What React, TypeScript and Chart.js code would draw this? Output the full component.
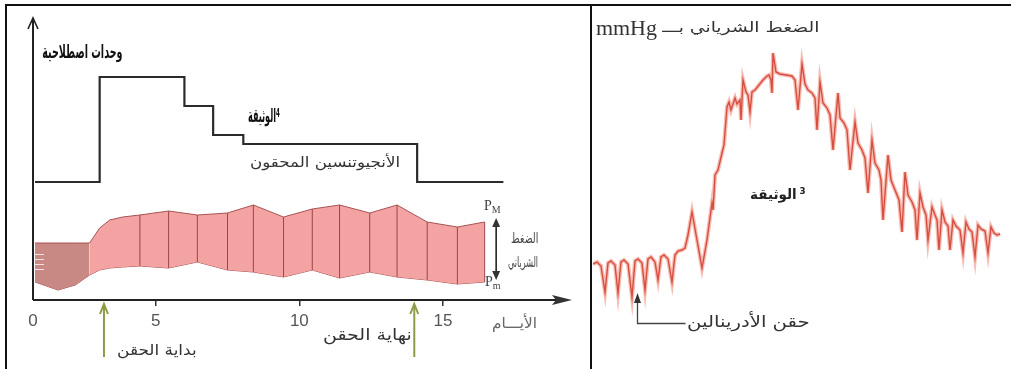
import React, { useEffect, useLayoutEffect, useRef } from "react";
import { Chart, registerables } from "chart.js";

Chart.register(...registerables);

// ---- Document 4: injected angiotensin (conventional units) over days ----
const injectionDays = [0.8, 3.05, 6, 7, 8.05, 14.1, 17.1];
const injectionLevels = [11.8, 22.3, 19.4, 16.5, 15.6, 11.8, 11.8];

// arterial pressure envelope (PM = maximum, Pm = minimum)
const pressureDays = [0.8, 1.6, 2.2, 2.7, 3.05, 3.4, 3.85, 4.45, 5.45, 6.45, 7.5, 8.4, 9.45, 10.45, 11.4, 12.45, 13.4, 14.45, 15.5, 16.45];
const maxPressure = [68.5, 68.5, 68.5, 68.5, 76, 80, 81.5, 82.5, 84.5, 82.5, 83.5, 87.5, 81.5, 85.5, 87.5, 83.5, 87.5, 79, 76.5, 79];
const minPressure = [49, 45, 47.5, 52.5, 55, 56, 56.5, 57, 56, 59, 55, 54, 51.5, 55, 51, 54, 51.5, 50, 48, 49];

const dayTicks = [5, 10, 15];
const injectionStartDay = 3.2;
const injectionEndDay = 14;
const dailyReadingsFrom = 4.4;

// ---- Document 3: arterial pressure (mmHg) after adrenaline injection ----
const traceTime = [
  0, 4, 8, 12, 15, 18, 22, 25, 28, 31,
  35, 39, 42, 45, 49, 52, 55, 58, 62, 65,
  68, 71, 75, 79, 82, 85, 89, 92, 95, 99,
  104, 109, 114, 119, 120, 122, 125, 129, 131, 134,
  136, 138, 140, 142, 144, 147, 148, 150, 153, 155,
  157, 159, 162, 166, 170, 174, 176, 178, 179, 180,
  183, 187, 193, 199, 202, 205, 209, 212, 215, 219,
  222, 224, 227, 230, 234, 237, 240, 245, 247, 251,
  254, 257, 262, 265, 269, 272, 275, 279, 282, 286,
  288, 290, 295, 298, 302, 306, 309, 312, 315, 319,
  322, 324, 327, 330, 333, 335, 339, 342, 344, 346,
  349, 352, 355, 357, 360, 363, 367, 370, 373, 376,
  379, 382, 385, 388, 392, 395, 398, 401, 404, 407,
];
const tracePressure = [
  68, 69, 67, 54, 68.5, 69.5, 67.5, 53.5, 69, 70,
  68, 51.5, 69.5, 70.5, 68.5, 55, 70.5, 71.5, 69, 60,
  71.5, 72.5, 70.5, 59, 72.5, 74.5, 75, 76, 82.5, 94,
  80, 66, 80, 98.5, 95, 112.5, 115, 123.5, 127.5, 146.5,
  149, 145, 148, 151, 148, 150, 140, 160, 154, 152.5,
  144, 154, 155, 157.5, 160, 162, 162.5, 160, 153.5, 173.5,
  164, 163, 162.5, 162, 160, 145, 168, 158, 155, 153.5,
  151, 135, 159, 148.5, 146, 142.5, 125, 153.5, 141, 138.5,
  135, 115, 139, 128.5, 125, 121, 103.5, 130, 118.5, 115,
  110, 90, 122.5, 110, 105, 100, 84, 114, 102.5, 99,
  95, 80, 103.5, 96.5, 92.5, 80, 96.5, 92.5, 90, 75,
  95, 89, 87, 75, 90, 87, 85, 73.5, 89, 85.5,
  84, 71.5, 87.5, 85.5, 84.5, 73.5, 86.5, 83.5, 82.5, 83,
];
const adrenalineTime = 44;

const ARABIC = "'DejaVu Sans', sans-serif";
const SERIF = "'Liberation Serif', 'DejaVu Serif', serif";
const PAGE_W = 1011;

type LabelProps = {
  right?: number;
  left?: number;
  y: number;
  width?: number;
  size: number;
  bold?: boolean;
  color?: string;
  font?: string;
  dir?: "rtl" | "ltr";
  children: React.ReactNode;
};

// Text placed on the page; when a width is given the run is stretched to it.
function Label({ right, left, y, width, size, bold, color = "#222", font = ARABIC, dir = "rtl", children }: LabelProps) {
  const ref = useRef<HTMLDivElement>(null);
  useLayoutEffect(() => {
    const el = ref.current;
    if (!el || !width) return;
    const w = el.offsetWidth;
    if (w > 0) el.style.transform = `translateY(-50%) scaleX(${width / w})`;
  }, [width]);
  return (
    <div
      ref={ref}
      style={{
        position: "absolute",
        top: y,
        left,
        right: right !== undefined ? PAGE_W - right : undefined,
        transform: "translateY(-50%)",
        transformOrigin: right !== undefined ? "right center" : "left center",
        whiteSpace: "nowrap",
        fontSize: size,
        fontWeight: bold ? 700 : 400,
        color,
        fontFamily: font,
        direction: dir,
        lineHeight: 1,
      }}
    >
      {children}
    </div>
  );
}

function drawArrowHead(ctx: CanvasRenderingContext2D, x: number, y: number, dir: number, half: number, len: number) {
  ctx.beginPath();
  ctx.moveTo(x, y);
  ctx.lineTo(x - half, y + dir * len);
  ctx.lineTo(x + half, y + dir * len);
  ctx.closePath();
  ctx.fill();
}

function AngiotensinChart() {
  const ref = useRef<HTMLCanvasElement>(null);
  useEffect(() => {
    const xMin = 0.73;
    const xMax = 19.42;
    const overlay = {
      id: "overlay",
      afterDatasetsDraw(chart: any) {
        const ctx: CanvasRenderingContext2D = chart.ctx;
        const xs = chart.scales.x;
        const ps = chart.scales.p;
        const area = chart.chartArea;
        const top = chart.getDatasetMeta(1).data;
        const bot = chart.getDatasetMeta(2).data;
        ctx.save();
        // daily readings inside the envelope
        ctx.strokeStyle = "#9a4646";
        ctx.lineWidth = 1;
        pressureDays.forEach((d, i) => {
          if (d < dailyReadingsFrom) return;
          ctx.beginPath();
          ctx.moveTo(top[i].x, top[i].y);
          ctx.lineTo(bot[i].x, bot[i].y);
          ctx.stroke();
        });
        // streaks at the start of the recording
        ctx.strokeStyle = "rgba(255,255,255,0.75)";
        const x0 = xs.getPixelForValue(pressureDays[0]);
        [63, 60.5, 58, 55.5].forEach((v) => {
          const yy = Math.round(ps.getPixelForValue(v)) + 0.5;
          ctx.beginPath();
          ctx.moveTo(x0, yy);
          ctx.lineTo(x0 + 9, yy);
          ctx.stroke();
        });
        // axes
        ctx.strokeStyle = "#222";
        ctx.fillStyle = "#333";
        ctx.lineWidth = 2;
        ctx.beginPath();
        ctx.moveTo(area.left, area.bottom);
        ctx.lineTo(area.left, area.top - 2);
        ctx.stroke();
        ctx.lineWidth = 1.6;
        ctx.beginPath();
        ctx.moveTo(area.left - 5, area.top + 9);
        ctx.lineTo(area.left, area.top - 2);
        ctx.lineTo(area.left + 5, area.top + 9);
        ctx.stroke();
        ctx.lineWidth = 2;
        ctx.beginPath();
        ctx.moveTo(area.left, area.bottom);
        ctx.lineTo(area.right - 12, area.bottom);
        ctx.stroke();
        ctx.beginPath();
        ctx.moveTo(area.right + 2, area.bottom);
        ctx.lineTo(area.right - 18, area.bottom - 5);
        ctx.lineTo(area.right - 14, area.bottom);
        ctx.lineTo(area.right - 18, area.bottom + 5);
        ctx.closePath();
        ctx.fill();
        // PM / Pm double arrow
        const ax = xs.getPixelForValue(16.85);
        const ay1 = ps.getPixelForValue(81);
        const ay2 = ps.getPixelForValue(50);
        ctx.lineWidth = 1.6;
        ctx.beginPath();
        ctx.moveTo(ax, ay1 + 5);
        ctx.lineTo(ax, ay2 - 5);
        ctx.stroke();
        drawArrowHead(ctx, ax, ay1, 1, 4, 9);
        drawArrowHead(ctx, ax, ay2, -1, 4, 9);
        // start / end of injection
        ctx.strokeStyle = "#8d9c46";
        ctx.lineWidth = 2;
        [injectionStartDay, injectionEndDay].forEach((d) => {
          const gx = xs.getPixelForValue(d);
          ctx.beginPath();
          ctx.moveTo(gx, 357);
          ctx.lineTo(gx, 305);
          ctx.stroke();
          ctx.beginPath();
          ctx.moveTo(gx - 4, 314);
          ctx.lineTo(gx, 304);
          ctx.lineTo(gx + 4, 314);
          ctx.stroke();
        });
        ctx.restore();
      },
    };
    const dark = "#c88884";
    const light = "#f4a3a3";
    const chart = new Chart(ref.current as HTMLCanvasElement, {
      type: "line",
      data: {
        datasets: [
          {
            data: injectionDays.map((d, i) => ({ x: d, y: injectionLevels[i] })),
            yAxisID: "y",
            stepped: "before",
            borderColor: "#2b2b2b",
            borderWidth: 2.2,
            pointRadius: 0,
            fill: false,
          },
          {
            data: pressureDays.map((d, i) => ({ x: d, y: maxPressure[i] })),
            yAxisID: "p",
            borderColor: "#a85252",
            borderWidth: 1,
            pointRadius: 0,
            fill: "+1",
            backgroundColor: light,
            segment: {
              backgroundColor: (c: any) => (pressureDays[c.p1DataIndex] <= 2.75 ? dark : light),
            },
          },
          {
            data: pressureDays.map((d, i) => ({ x: d, y: minPressure[i] })),
            yAxisID: "p",
            borderColor: "#a85252",
            borderWidth: 1,
            pointRadius: 0,
            fill: false,
          },
        ],
      },
      options: {
        animation: false,
        responsive: false,
        events: [],
        layout: { padding: { left: 33, right: 20, top: 20, bottom: 0 } },
        plugins: { legend: { display: false }, tooltip: { enabled: false } },
        scales: {
          x: {
            type: "linear",
            min: xMin,
            max: xMax,
            afterBuildTicks: (s: any) => {
              s.ticks = [xMin, ...dayTicks].map((v) => ({ value: v }));
            },
            afterFit: (s: any) => {
              s.height = 69;
            },
            ticks: {
              callback: (v: any) => (v === xMin ? "0" : String(v)),
              color: "#555",
              font: { family: "'Liberation Sans', Arial, sans-serif", size: 17 },
              padding: 5,
              maxRotation: 0,
              autoSkip: false,
            },
            grid: {
              display: true,
              drawOnChartArea: false,
              tickLength: 6,
              lineWidth: 1.5,
              color: (c: any) => (c.tick && c.tick.value === xMin ? "rgba(0,0,0,0)" : "#333"),
            },
            border: { display: false },
          },
          y: { type: "linear", min: 0, max: 28, display: false },
          p: { type: "linear", min: 40, max: 180, display: false },
        },
      } as any,
      plugins: [overlay],
    });
    return () => chart.destroy();
  }, []);
  return <canvas ref={ref} width={590} height={369} style={{ position: "absolute", left: 0, top: 0 }} />;
}

function AdrenalineChart() {
  const ref = useRef<HTMLCanvasElement>(null);
  useEffect(() => {
    const marker = {
      id: "marker",
      afterDraw(chart: any) {
        const ctx: CanvasRenderingContext2D = chart.ctx;
        const mx = Math.round(chart.scales.x.getPixelForValue(adrenalineTime)) + 0.5;
        ctx.save();
        ctx.strokeStyle = "#444";
        ctx.fillStyle = "#333";
        ctx.lineWidth = 1.3;
        ctx.beginPath();
        ctx.moveTo(mx + 48, 323.5);
        ctx.lineTo(mx, 323.5);
        ctx.lineTo(mx, 300);
        ctx.stroke();
        drawArrowHead(ctx, mx, 293, 1, 3.5, 10);
        ctx.restore();
      },
    };
    const points = traceTime.map((t, i) => ({ x: t, y: tracePressure[i] }));
    const chart = new Chart(ref.current as HTMLCanvasElement, {
      type: "line",
      data: {
        datasets: [
          {
            data: points,
            borderColor: "rgba(240,105,85,0.45)",
            borderWidth: 4,
            pointRadius: 0,
            tension: 0,
            fill: false,
          },
          {
            data: points,
            borderColor: "rgb(192,58,46)",
            borderWidth: 1.4,
            pointRadius: 0,
            tension: 0,
            fill: false,
          },
        ],
      },
      options: {
        animation: false,
        responsive: false,
        events: [],
        layout: { padding: { left: 0, right: 0, top: 20, bottom: 49 } },
        plugins: { legend: { display: false }, tooltip: { enabled: false } },
        scales: {
          x: { type: "linear", min: 0, max: 418, display: false },
          y: { type: "linear", min: 40, max: 190, display: false },
        },
      } as any,
      plugins: [marker],
    });
    return () => chart.destroy();
  }, []);
  return <canvas ref={ref} width={418} height={369} style={{ position: "absolute", left: 593, top: 0 }} />;
}

export default function App() {
  return (
    <div
      style={{
        position: "absolute",
        left: 0,
        top: 0,
        width: PAGE_W,
        height: 369,
        background: "#fff",
        overflow: "hidden",
      }}
    >
      <AngiotensinChart />
      <AdrenalineChart />

      {/* frame */}
      <div style={{ position: "absolute", left: 5, top: 4, width: 1006, height: 2, background: "#111" }} />
      <div style={{ position: "absolute", left: 5, top: 4, width: 2, height: 365, background: "#111" }} />
      <div style={{ position: "absolute", left: 590, top: 4, width: 2, height: 365, background: "#111" }} />

      {/* document 4 labels */}
      <Label right={122} y={51} width={80} size={19} bold color="#111">وحدات اصطلاحية</Label>
      <Label left={248} y={115} width={32} size={19} bold color="#111" dir="ltr">
        <span style={{ display: "inline-flex", direction: "ltr", alignItems: "flex-start" }}>
          <span>الوثيقة</span>
          <span style={{ fontSize: 13 }}>4</span>
        </span>
      </Label>
      <Label right={400} y={162} width={150} size={14} color="#333">الأنجيوتنسين المحقون</Label>
      <Label right={197} y={350} width={80} size={15} color="#333">بداية الحقن</Label>
      <Label right={412} y={335} width={89} size={16} color="#333">نهاية الحقن</Label>
      <Label right={537} y={323} width={45} size={15} color="#666">الأيـــام</Label>
      <Label left={484} y={207} size={14} color="#444" font={SERIF} dir="ltr">
        P<sub style={{ fontSize: 10 }}>M</sub>
      </Label>
      <Label left={485} y={283} size={14} color="#444" font={SERIF} dir="ltr">
        P<sub style={{ fontSize: 10 }}>m</sub>
      </Label>
      <Label right={538} y={238} width={27} size={14} color="#444">الضغط</Label>
      <Label right={538} y={262} width={30} size={14} color="#444">الشرياني</Label>

      {/* document 3 labels */}
      <Label right={820} y={27} width={158} size={14} color="#333">الضغط الشرياني بـــ</Label>
      <Label right={657} y={28} size={22} color="#333" font={SERIF} dir="ltr">mmHg</Label>
      <Label left={750} y={194} width={56} size={14} bold color="#222" dir="ltr">
        <span style={{ display: "inline-flex", direction: "ltr", alignItems: "flex-start", gap: 3 }}>
          <span>الوثيقة</span>
          <span style={{ fontSize: 9 }}>3</span>
        </span>
      </Label>
      <Label right={810} y={322} width={123} size={16} color="#333">حقن الأدرينالين</Label>
    </div>
  );
}
